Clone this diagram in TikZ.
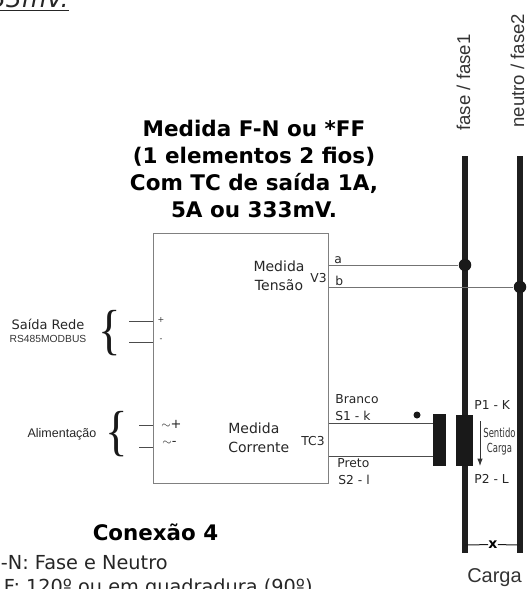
\documentclass[tikz,border=0pt]{standalone}
\usepackage{fontspec}
\setmainfont{DejaVu Sans}
\newfontfamily\arialfont{Liberation Sans}
\newfontfamily\serifbrace{Liberation Serif}
\usetikzlibrary{positioning, calc, arrows.meta}

\begin{document}
\begin{tikzpicture}[
    x=1pt, y=-1pt,
    line width=0.8pt,
    label_text/.style={inner sep=0pt, anchor=base west, font=\fontsize{12.3}{14}\selectfont, text=black!85},
    note_text/.style={inner sep=0pt, anchor=base east, font=\fontsize{19.3}{22}\selectfont, text=black!85},
    brace_text/.style={inner sep=0pt, text=black!90, font=\serifbrace\fontsize{55}{55}\selectfont},
    bar/.style={line width=6.6pt, draw=black!88},
    wire/.style={line width=1pt, draw=black!55},
    side_wire/.style={line width=1pt, draw=black!70},
    core/.style={fill=black!90, inner sep=0pt},
    junction/.style={circle, fill=black!90, inner sep=0pt, minimum size=12.5pt}
]
    \useasboundingbox (0,0) rectangle (527,589);
    \clip (0,0) rectangle (527,589);

    % cut off at the page edges
    \node[inner sep=0pt, anchor=base east, font=\itshape\fontsize{25}{27}\selectfont, text=black!85](top_cut) at (69,8){\underline{33mV.}};
    \node[note_text](note_fn) at (168,569){-N: Fase e Neutro};
    \node[note_text](note_ff) at (313,593){F: 120º ou em quadradura (90º)};

    \node[inner sep=0pt, align=center, font=\bfseries\fontsize{21.5}{26.7}\selectfont](title) at (254,169){Medida F-N ou *FF\\(1 elementos 2 fios)\\Com TC de saída 1A,\\5A ou 333mV.};
    \node[inner sep=0pt, font=\bfseries\fontsize{21.4}{24}\selectfont](conexao) at (155.5,532){Conexão 4};

    \node[draw=black!50, line width=1pt, minimum width=175pt, minimum height=250pt, anchor=north west](device) at (152.5,233){};

    % Phase conductors
    \coordinate(fase_top) at (465,156);
    \coordinate(neutro_top) at (520,156);
    \coordinate(fase_bottom) at (465,553);
    \coordinate(neutro_bottom) at (520,553);
    \draw[bar](fase_top) -- (fase_bottom);
    \draw[bar](neutro_top) -- (neutro_bottom);

    \node[rotate=90, anchor=west, inner sep=0pt, font=\arialfont\fontsize{18.6}{20}\selectfont, text=black!80](fase_label) at (463.5,131){fase / fase1};
    \node[rotate=90, anchor=west, inner sep=0pt, font=\arialfont\fontsize{18.6}{20}\selectfont, text=black!80](neutro_label) at (517.5,128){neutro / fase2};
    \node[inner sep=0pt, font=\arialfont\fontsize{20}{22}\selectfont, text=black!80](carga) at (494.5,578){Carga};

    % Load
    \coordinate(load_left) at (465,545);
    \coordinate(load_right) at (520,545);
    \node[inner sep=0pt, font=\bfseries\fontsize{14}{14}\selectfont](load_mark) at (493,544.5){x};
    \draw[side_wire, draw=black!90](load_left) -- (load_mark);
    \draw[side_wire, draw=black!90](load_mark) -- (load_right);

    % Voltage
    \node[junction](dot_a) at (465,265){};
    \node[junction](dot_b) at (520,287){};
    \draw[wire](device.east |- dot_a) -- (dot_a);
    \draw[wire](device.east |- dot_b) -- (dot_b);
    \node[label_text](term_a) at (334,263){a};
    \node[label_text](term_b) at (335,285){b};
    \node[inner sep=0pt, align=center, font=\fontsize{14}{18.5}\selectfont, text=black!85](medida_tensao) at (279,276){Medida\\Tensão};
    \node[label_text](v3) at (310,282){V3};

    % Network output
    \node[inner sep=0pt, font=\fontsize{13}{15}\selectfont, text=black!85](saida) at (48,324){Saída Rede};
    \node[inner sep=0pt, font=\arialfont\fontsize{10.3}{12}\selectfont, text=black!80, below=5pt of saida](rs485){RS485MODBUS};
    \node[brace_text](brace_rede) at (110,333){\scalebox{0.85}[1]{\{}};
    \coordinate(rede_plus) at (129,321);
    \coordinate(rede_minus) at (129,342);
    \draw[side_wire](rede_plus) -- (device.west |- rede_plus);
    \draw[side_wire](rede_minus) -- (device.west |- rede_minus);
    \node[inner sep=0pt, font=\fontsize{8}{8}\selectfont, text=black!80](plus_rede) at (161,320){+};
    \node[inner sep=0pt, font=\fontsize{8}{8}\selectfont, text=black!80](minus_rede) at (161,340){-};

    % Power supply
    \node[inner sep=0pt, font=\arialfont\fontsize{12.5}{14}\selectfont, text=black!85](alimentacao) at (62,434){Alimentação};
    \node[brace_text](brace_alim) at (116.5,434.5){\scalebox{0.85}[1]{\{}};
    \coordinate(alim_plus) at (139,425);
    \coordinate(alim_minus) at (139,447);
    \draw[side_wire](alim_plus) -- (device.west |- alim_plus);
    \draw[side_wire](alim_minus) -- (device.west |- alim_minus);
    \node[inner sep=0pt, font=\fontsize{13}{13}\selectfont, text=black!85](ac_plus) at (171.5,424){$\sim$+};
    \node[inner sep=0pt, font=\fontsize{13}{13}\selectfont, text=black!85](ac_minus) at (169.5,443){$\sim$-};

    % Current transformer
    \node[inner sep=0pt, align=left, font=\fontsize{14}{18.5}\selectfont, text=black!85, anchor=west](medida_corrente) at (228,438){Medida\\Corrente};
    \node[label_text](tc3) at (301,445){TC3};
    \node[core, minimum width=13pt, minimum height=52pt](secondary) at (439.5,440){};
    \node[core, minimum width=17pt, minimum height=51pt](primary) at (464.5,440.5){};
    \draw[side_wire](device.east |- 0,423) -- (secondary.west |- 0,423);
    \draw[side_wire](device.east |- 0,456) -- (secondary.west |- 0,456);
    \node[circle, fill=black!90, inner sep=0pt, minimum size=7pt](polarity) at (417,415){};
    \node[label_text](branco) at (335,403){Branco};
    \node[label_text](s1) at (335,420){S1 - k};
    \node[label_text](preto) at (337,467){Preto};
    \node[label_text](s2) at (338,484){S2 - l};
    \node[label_text](p1) at (474,409){P1 - K};
    \node[label_text](p2) at (474,483){P2 - L};

    \coordinate(sentido_top) at (480,421);
    \coordinate(sentido_bottom) at (480,466);
    \draw[-Latex, line width=1pt, black!80](sentido_top) -- (sentido_bottom);
    \node[inner sep=0pt, align=center, font=\fontsize{12.5}{15}\selectfont, text=black!80](sentido) at (499.5,441.5){\scalebox{0.68}[1]{Sentido}\\\scalebox{0.68}[1]{Carga}};
\end{tikzpicture}
\end{document}
